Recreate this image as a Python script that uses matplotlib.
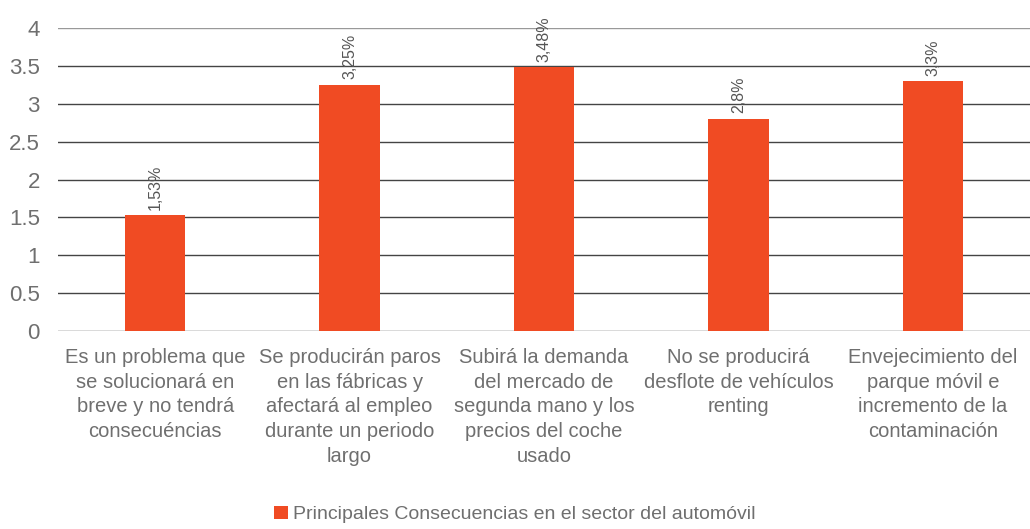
import matplotlib
matplotlib.use("Agg")
import matplotlib.pyplot as plt
import numpy as np

# data
categories = [
    "Es un problema que\nse solucionará en\nbreve y no tendrá\nconsecuéncias",
    "Se producirán paros\nen las fábricas y\nafectará al empleo\ndurante un periodo\nlargo",
    "Subirá la demanda\ndel mercado de\nsegunda mano y los\nprecios del coche\nusado",
    "No se producirá\ndesflote de vehículos\nrenting",
    "Envejecimiento del\nparque móvil e\nincremento de la\ncontaminación",
]
values = [1.53, 3.25, 3.48, 2.8, 3.3]
value_labels = ["1,53%", "3,25%", "3,48%", "2,8%", "3,3%"]
series_name = "Principales Consecuencias en el sector del automóvil"
yticks = [0, 0.5, 1, 1.5, 2, 2.5, 3, 3.5, 4]

bar_color = "#F04B23"
text_color = "#6f6f6f"

plt.rcParams["font.family"] = ["Liberation Sans", "DejaVu Sans"]

fig = plt.figure(figsize=(10.30, 5.29), dpi=100)
ax = fig.add_axes([0.0563, 0.374, 0.9437, 0.573])

x = np.arange(len(categories))
bars = ax.bar(x, values, width=0.31, color=bar_color, zorder=3, label=series_name)

for b, lab in zip(bars, value_labels):
    ax.annotate(lab, (b.get_x() + b.get_width() / 2, b.get_height()),
                xytext=(0, 4), textcoords="offset points",
                rotation=90, ha="center", va="bottom",
                fontsize=11.5, color="#555555")

ax.set_xlim(-0.5, len(categories) - 0.5)
ax.set_ylim(0, 4)
ax.set_yticks(yticks)
ax.set_yticklabels([f"{t:g}" for t in yticks])
ax.set_xticks(x)
ax.set_xticklabels(categories, fontsize=14.5, color=text_color, linespacing=1.38)
ax.tick_params(axis="y", labelsize=16, colors=text_color, length=0, pad=13)
ax.tick_params(axis="x", length=0, pad=12)

ax.grid(axis="y", color="#444444", linewidth=1.0, zorder=0)
ax.get_ygridlines()[-1].set_color("#999999")
for s in ax.spines.values():
    s.set_visible(False)

fig.legend(handles=[bars], labels=[series_name], loc="lower center",
           bbox_to_anchor=(0.5, -0.022), frameon=False, fontsize=14,
           handlelength=0.7, handleheight=0.7, handletextpad=0.3,
           labelcolor=text_color)

fig.savefig("out.png", dpi=100)
